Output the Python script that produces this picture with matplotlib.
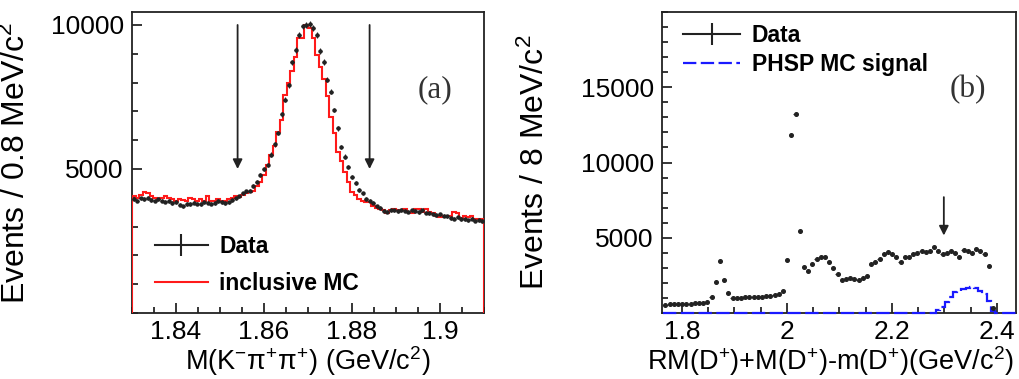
import numpy as np
import matplotlib
matplotlib.use("Agg")
import matplotlib.pyplot as plt
from matplotlib.lines import Line2D
from matplotlib.ticker import MultipleLocator, FixedLocator, FixedFormatter

plt.rcParams["font.family"] = ["Liberation Sans", "DejaVu Sans"]
plt.rcParams["mathtext.fontset"] = "custom"
plt.rcParams["mathtext.rm"] = "Liberation Sans"
plt.rcParams["mathtext.it"] = "Liberation Sans"
plt.rcParams["mathtext.default"] = "regular"

# ---- panel (a): M(K- pi+ pi+), 0.8 MeV bins from 1.83 to 1.91 ----
a_lo, a_width, a_nbins = 1.83, 0.0008, 100
data_a = [
    3950, 3900, 3980, 3960, 4000, 3930, 3900, 3950, 3900, 3870,
    3880, 3820, 3850, 3760, 3700, 3790, 3780, 3830, 3800, 3790,
    3840, 3830, 3800, 3820, 3880, 3850, 3820, 3840, 3920, 3980,
    4050, 4150, 4220, 4250, 4400, 4550, 4790, 4990, 5140, 5500,
    5850, 6250, 6900, 7400, 7900, 8700, 9130, 9650, 9950, 10000,
    10030, 9900, 9650, 9100, 8720, 8100, 7680, 7050, 6410, 5770,
    5430, 5080, 4730, 4500, 4270, 4150, 3950, 3900, 3830, 3700,
    3650, 3550, 3520, 3560, 3560, 3540, 3580, 3550, 3520, 3560,
    3540, 3500, 3560, 3480, 3460, 3430, 3400, 3420, 3380, 3360,
    3300, 3280, 3320, 3260, 3250, 3220, 3280, 3200, 3230, 3190]
mc_a = [
    4050, 4000, 4100, 4200, 4150, 4050, 4000, 3950, 4000, 4050,
    3980, 3950, 3900, 3950, 3920, 3880, 4000, 3950, 3900, 3950,
    3900, 4050, 3900, 3880, 3950, 3900, 3880, 3950, 4000, 4050,
    4020, 4100, 4150, 4200, 4250, 4400, 4550, 4800, 5140, 5500,
    5800, 6300, 6700, 7570, 8000, 8400, 8900, 9540, 9550, 10000,
    9900, 9540, 8940, 8540, 8130, 7550, 6800, 6240, 5600, 5290,
    4890, 4560, 4210, 4100, 3950, 3900, 3850, 3850, 3700, 3650,
    3600, 3560, 3480, 3560, 3600, 3560, 3560, 3600, 3500, 3460,
    3600, 3600, 3520, 3600, 3520, 3480, 3380, 3350, 3380, 3380,
    3380, 3500, 3470, 3300, 3380, 3350, 3380, 3280, 3280, 3250]
cuts_a = [1.854, 1.884]

# ---- panel (b): RM(D+)+M(D+)-m(D+), 8 MeV bins ----
b_lo, b_width, b_nbins = 1.7645, 0.008, 84
data_b = [
    560, 570, 580, 590, 600, 610, 620, 640, 650, 690,
    720, 1040, 2040, 3440, 2220, 1330, 1000, 1000, 1020, 1030,
    1040, 1050, 1060, 1080, 1120, 1150, 1200, 1270, 1440, 3490,
    11800, 13200, 5420, 3040, 2770, 3270, 3600, 3750, 3700, 3370,
    3000, 2600, 2200, 2260, 2330, 2260, 2200, 2330, 2490, 3270,
    3370, 3600, 3890, 4040, 3890, 3750, 3370, 3710, 3750, 3890,
    3970, 4110, 4040, 4110, 4370, 4110, 3890, 3970, 4110, 3970,
    3750, 4200, 4110, 3970, 4270, 4110, 3890, 3090, 300]
phsp_b = [0] * 65 + [200, 420, 710, 1040, 1420, 1490, 1600, 1670, 1700,
                     1670, 1490, 1270, 820, 100] + [0] * 5
cut_b = 2.299
arrow_b = (7700, 5150)

fig = plt.figure(figsize=(10.2, 3.79), dpi=100)
ax1 = fig.add_axes([132 / 1020, 66 / 379, 352 / 1020, 301 / 379])
ax2 = fig.add_axes([662 / 1020, 66 / 379, 354 / 1020, 301 / 379])

tick_fs = 19
label_fs_y = 23
label_fs_x = 19.5
leg_fs = 16.5

for ax in (ax1, ax2):
    for sp in ax.spines.values():
        sp.set_linewidth(1.3)
        sp.set_color("#222222")
    ax.tick_params(which="both", direction="in", top=False, right=False,
                   labelsize=tick_fs, width=1.1)
    ax.tick_params(which="major", length=7)
    ax.tick_params(which="minor", length=4)
    ax.tick_params(axis="y", pad=6)
    ax.tick_params(axis="x", pad=5)

# panel (a)
edges_a = a_lo + a_width * np.arange(a_nbins + 1)
cent_a = edges_a[:-1] + a_width / 2
ax1.stairs(mc_a, edges_a, baseline=0, color="#ff1a1a", lw=1.5, zorder=3)
ax1.errorbar(cent_a, data_a, yerr=np.sqrt(data_a), xerr=a_width / 2,
             fmt="o", ms=2.2, color="#222222", elinewidth=0.8, capsize=0, zorder=4)
for c in cuts_a:
    ax1.annotate("", xy=(c, 5000), xytext=(c, 10000),
                 arrowprops=dict(arrowstyle="-|>", color="#222222", lw=1.3,
                                 mutation_scale=14, shrinkA=0, shrinkB=0))
ax1.set_xlim(a_lo, a_lo + a_width * a_nbins)
ax1.set_ylim(0, 10450)
ax1.xaxis.set_major_locator(FixedLocator([1.84, 1.86, 1.88, 1.9]))
ax1.xaxis.set_major_formatter(FixedFormatter(["1.84", "1.86", "1.88", "1.9"]))
ax1.xaxis.set_minor_locator(MultipleLocator(0.005))
ax1.yaxis.set_major_locator(FixedLocator([5000, 10000]))
ax1.yaxis.set_major_formatter(FixedFormatter(["5000", "10000"]))
ax1.yaxis.set_minor_locator(MultipleLocator(1000))
ax1.set_xlabel("M(K$^{-}$π$^{+}$π$^{+}$) (GeV/c$^{2}$)", fontsize=label_fs_x)
ax1.set_ylabel("Events / 0.8 MeV/c$^{2}$", fontsize=label_fs_y)
ax1.yaxis.set_label_coords(-0.284, 0.5)
ax1.xaxis.set_label_coords(0.5, -0.104)
ax1.text(0.862, 0.741, "(a)", transform=ax1.transAxes, fontsize=22.5,
         family="Liberation Serif", color="#333333", ha="center", va="center")
h_data = Line2D([], [], color="#222222", lw=1.5, marker="|", ms=16, mew=1.5)
h_mc = Line2D([], [], color="#ff1a1a", lw=1.5)
ax1.legend([h_data, h_mc], ["Data", "inclusive MC"], loc="upper left",
           bbox_to_anchor=(0.065, 0.2575), frameon=False,
           prop=dict(size=leg_fs, weight="bold"), handlelength=2.3,
           handletextpad=0.5, labelspacing=0.6, borderpad=0, borderaxespad=0)

# panel (b)
edges_b = b_lo + b_width * np.arange(b_nbins + 1)
cent_b = edges_b[:-1] + b_width / 2
ax2.stairs(phsp_b, edges_b, baseline=None, color="#1a1aff", lw=1.6,
           linestyle=(0, (6, 2)), zorder=3, clip_on=False)
ax2.errorbar(cent_b[:len(data_b)], data_b, yerr=np.sqrt(data_b), xerr=b_width / 2,
             fmt="o", ms=2.6, color="#222222", elinewidth=0.8, capsize=0, zorder=4)
ax2.annotate("", xy=(cut_b, arrow_b[1]), xytext=(cut_b, arrow_b[0]),
             arrowprops=dict(arrowstyle="-|>", color="#222222", lw=1.3,
                             mutation_scale=14, shrinkA=0, shrinkB=0))
ax2.set_xlim(1.762, edges_b[-1])
ax2.set_ylim(0, 20000)
ax2.xaxis.set_major_locator(FixedLocator([1.8, 2.0, 2.2, 2.4]))
ax2.xaxis.set_major_formatter(FixedFormatter(["1.8", "2", "2.2", "2.4"]))
ax2.xaxis.set_minor_locator(MultipleLocator(0.05))
ax2.yaxis.set_major_locator(FixedLocator([5000, 10000, 15000]))
ax2.yaxis.set_major_formatter(FixedFormatter(["5000", "10000", "15000"]))
ax2.yaxis.set_minor_locator(MultipleLocator(1000))
ax2.set_xlabel("RM(D$^{+}$)+M(D$^{+}$)-m(D$^{+}$)(GeV/c$^{2}$)", fontsize=label_fs_x)
ax2.set_ylabel("Events / 8 MeV/c$^{2}$", fontsize=label_fs_y)
ax2.yaxis.set_label_coords(-0.314, 0.5)
ax2.xaxis.set_label_coords(0.475, -0.104)
ax2.text(0.863, 0.741, "(b)", transform=ax2.transAxes, fontsize=22.5,
         family="Liberation Serif", color="#333333", ha="center", va="center")
h_phsp = Line2D([], [], color="#1a1aff", lw=1.6, linestyle=(0, (6, 2)))
ax2.legend([h_data, h_phsp], ["Data", "PHSP MC signal"], loc="upper left",
           bbox_to_anchor=(0.059, 0.96), frameon=False,
           prop=dict(size=leg_fs, weight="bold"), handlelength=2.5,
           handletextpad=0.5, labelspacing=0.25, borderpad=0, borderaxespad=0)

fig.savefig("out.png", dpi=100, facecolor="white")
